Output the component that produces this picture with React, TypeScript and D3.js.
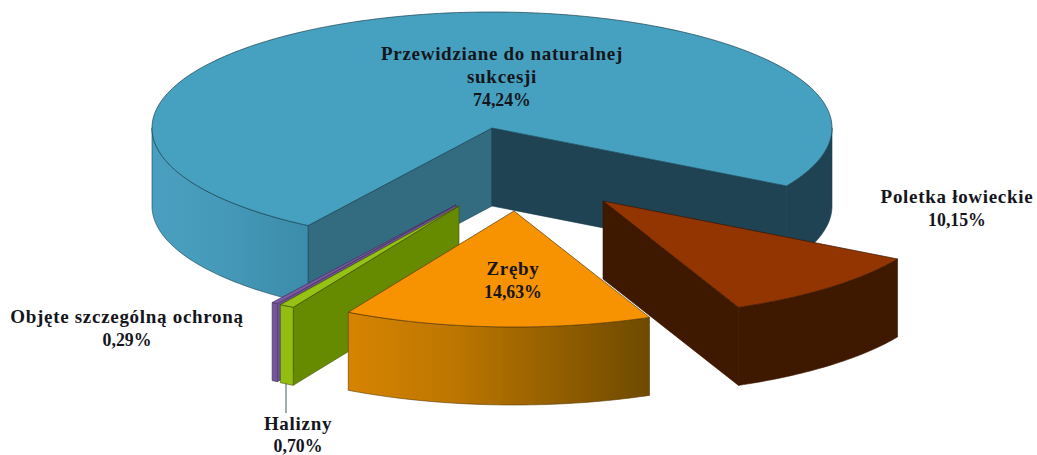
import React from "react";
import * as d3 from "d3";

const categories = ["Przewidziane do naturalnej sukcesji", "Poletka łowieckie", "Zręby", "Halizny", "Objęte szczególną ochroną"];
const values = [74.24, 10.15, 14.63, 0.7, 0.29];
const labelLines = [["Przewidziane do naturalnej", "sukcesji"], ["Poletka łowieckie"], ["Zręby"], ["Halizny"], ["Objęte szczególną ochroną"]];

const width = 1037, height = 455;
const rx = 340, ry = 116, depth = 78;
const firstAngle = (212.74 - 360) * Math.PI / 180;
const apexes: [number, number][] = [[492, 128], [603, 201], [514, 211], [459, 206], [456, 205]];
const topColors = ["#46a1c0", "#933500", "#f79200", "#95c213", "#7c5ba3"];
const cutColors = [["#336b81", "#1f4352"], ["#3f1800", "#3f1800"], ["#8a5a00", "#8a5a00"], ["#668a00", "#668a00"], ["#6f5296", "#6f5296"]];
const wallStops: [number, string][][] = [
  [[0, "#4a9fc0"], [0.08, "#479bba"], [0.23, "#3c8cab"], [0.24, "#2a5c70"], [0.93, "#1f4352"], [1, "#1f4352"]],
  [[0, "#3f1800"], [1, "#3f1800"]],
  [[0, "#d68400"], [0.35, "#bd7600"], [0.7, "#925e00"], [1, "#6e4a00"]],
  [[0, "#93bd10"], [1, "#93bd10"]],
  [[0, "#73569c"], [1, "#73569c"]],
];
const strokeColors = ["#17404f", "#3a1500", "#5a3a00", "#3f5500", "#40305a"];
const drawOrder = [0, 1, 4, 3, 2];
const labelPos: [number, number][] = [[502, 60], [957, 203], [513, 275], [298, 430], [127, 323]];
const lineSteps = [23, 23, 23, 22, 23];
const leader = { x: 286, y0: 383, y1: 413 };

const slices = d3.pie<number>().sort(null).startAngle(firstAngle).endAngle(firstAngle + 2 * Math.PI)(values);
const sx = d3.scaleLinear().domain([-1, 1]).range([-rx, rx]);
const sy = d3.scaleLinear().domain([-1, 1]).range([-ry, ry]);
const line = d3.line<[number, number]>().x(d => d[0]).y(d => d[1]);
const rim = (a0: number, a1: number, i: number, dy = 0): [number, number][] => {
  const n = Math.max(2, Math.ceil(Math.abs(a1 - a0) * 60));
  return d3.range(n + 1).map(k => {
    const a = a0 + (a1 - a0) * k / n;
    return [apexes[i][0] + sx(Math.sin(a)), apexes[i][1] + sy(-Math.cos(a)) + dy] as [number, number];
  });
};
const lowerHalves = (a0: number, a1: number): [number, number][] => {
  const out: [number, number][] = [];
  for (let k = -1; k <= 1; k++) {
    const lo = Math.max(a0, Math.PI / 2 + 2 * k * Math.PI);
    const hi = Math.min(a1, 1.5 * Math.PI + 2 * k * Math.PI);
    if (lo < hi) out.push([lo, hi]);
  }
  return out;
};
const fmt = (v: number) => v.toFixed(2).replace(".", ",") + "%";

export default function App() {
  return (
    <svg width={width} height={height} viewBox={`0 0 ${width} ${height}`} style={{ position: "absolute", left: 0, top: 0, background: "#fff" }}>
      <defs>
        {slices.map((s, i) => {
          const pts = rim(s.startAngle, s.endAngle, i);
          const xs = lowerHalves(s.startAngle, s.endAngle).flatMap(([a, b]) => rim(a, b, i).map(p => p[0]));
          const x0 = i === 0 ? apexes[0][0] - rx : d3.min(xs.length ? xs : pts.map(p => p[0]))!;
          const x1 = i === 0 ? apexes[0][0] + rx : d3.max(xs.length ? xs : pts.map(p => p[0]))!;
          return (
            <linearGradient key={i} id={`wall${i}`} gradientUnits="userSpaceOnUse" x1={x0} x2={x1} y1={0} y2={0}>
              {wallStops[i].map(([o, c], k) => <stop key={k} offset={o} stopColor={c} />)}
            </linearGradient>
          );
        })}
      </defs>
      <line x1={leader.x} x2={leader.x} y1={leader.y0} y2={leader.y1} stroke="#3f5f60" strokeWidth={1} />
      {drawOrder.map(i => {
        const s = slices[i];
        const [cx, cy] = apexes[i];
        const faces = [s.startAngle, s.endAngle].map((a, k) => {
          const [ox, oy] = rim(a, a, i)[0];
          return { k, d: line([[cx, cy], [ox, oy], [ox, oy + depth], [cx, cy + depth]])! + "Z", ox };
        });
        // cut faces turned to the viewer only: start side when it lies left, end side when it lies right
        const shownFaces = faces.filter(f => {
          const ang = f.k === 0 ? s.startAngle : s.endAngle;
          const sn = Math.sin(ang), cs = Math.cos(ang);
          return cs < 0 && (f.k === 0 ? sn < 0 : sn > 0);
        });
        return (
          <g key={i}>
            {shownFaces.map(f => (
              <path key={f.k} d={f.d} fill={cutColors[i][f.k]} stroke={strokeColors[i]} strokeWidth={0.6} strokeLinejoin="round" />
            ))}
            {lowerHalves(s.startAngle, s.endAngle).map(([a, b], k) => (
              <path key={k} d={line([...rim(a, b, i), ...rim(a, b, i, depth).reverse()])! + "Z"} fill={`url(#wall${i})`} stroke={strokeColors[i]} strokeWidth={0.6} strokeLinejoin="round" />
            ))}
            <path d={line([[cx, cy], ...rim(s.startAngle, s.endAngle, i)])! + "Z"} fill={topColors[i]} stroke={strokeColors[i]} strokeWidth={0.7} strokeLinejoin="round" />
          </g>
        );
      })}
      {categories.map((c, i) => (
        <text key={c} x={labelPos[i][0]} y={labelPos[i][1]} textAnchor="middle" fontFamily="'Liberation Serif', serif" fontWeight="bold" fill="#15151c">
          {labelLines[i].map((t, k) => (
            <tspan key={k} x={labelPos[i][0]} dy={k === 0 ? 0 : lineSteps[i]} fontSize={19} letterSpacing={0.7}>{t}</tspan>
          ))}
          <tspan x={labelPos[i][0]} dy={lineSteps[i]} fontSize={17.8}>{fmt(values[i])}</tspan>
        </text>
      ))}
    </svg>
  );
}
